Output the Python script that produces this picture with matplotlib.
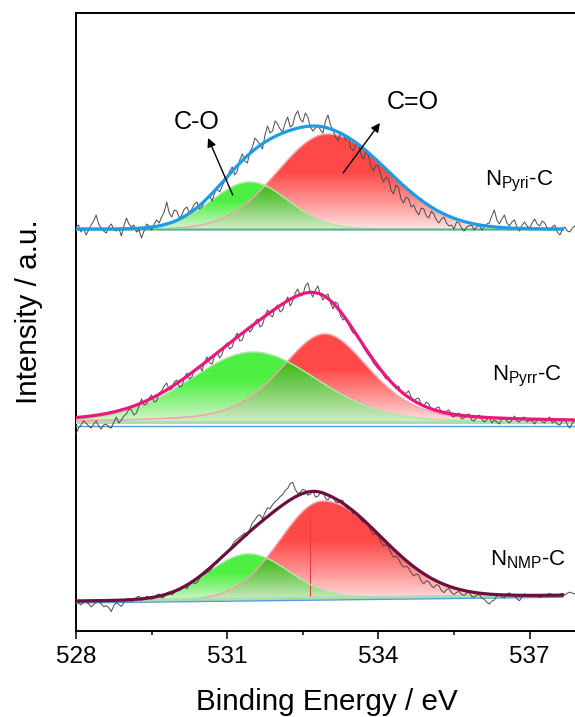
import numpy as np
import matplotlib
matplotlib.use('Agg')
import matplotlib.pyplot as plt
from matplotlib.ticker import FixedLocator

plt.rcParams['font.family'] = ['Liberation Sans', 'DejaVu Sans']
plt.rcParams['mathtext.fontset'] = 'custom'
plt.rcParams['mathtext.rm'] = 'Liberation Sans'
plt.rcParams['mathtext.it'] = 'Liberation Sans:italic'
plt.rcParams['mathtext.default'] = 'regular'

# ---- measured O 1s spectra (counts above baseline, arbitrary units) ----
# sampled every 0.05 eV from 528.0 to 537.9 eV
energy_first, energy_last = 528.0, 537.9

raw_pyri = [2, 4, -3, 1, -6, -1, 4, 8, 14, 5, 1, -2, -4, 2, 5, 0, -2, 1, -7, 3,
            11, 5, 2, 4, -3, -1, -9, -2, 5, 3, -1, 5, 9, 6, 12, 17, 27, 16, 12, 19,
            18, 11, 14, 20, 22, 16, 20, 25, 27, 20, 22, 28, 31, 33, 28, 36, 40, 37, 43, 48,
            50, 58, 62, 54, 58, 69, 75, 68, 66, 77, 82, 91, 88, 84, 80, 94, 103, 96, 98, 108,
            105, 100, 97, 106, 112, 102, 104, 114, 118, 110, 107, 116, 112, 102, 98, 101, 104, 99, 96, 108,
            114, 104, 99, 92, 88, 97, 95, 89, 92, 81, 78, 84, 86, 75, 70, 77, 74, 63, 58, 64,
            63, 53, 47, 52, 50, 39, 35, 44, 41, 30, 26, 32, 30, 22, 24, 18, 14, 21, 20, 13,
            11, 18, 15, 9, 6, 10, 12, 6, 3, 4, 0, 7, 6, 1, -2, 2, 3, 4, -1, 2,
            4, -1, 2, 5, 6, 13, 19, 9, 5, 10, 14, 6, 3, 7, 9, 2, -2, 4, 7, 3,
            1, 6, 10, 5, 3, 8, 6, 1, -1, 2, 4, -3, -6, -1, 2, -2, -3, 1, 3]

raw_pyrr = [-8, -2, 1, 5, 3, 0, -2, 2, 5, 0, -3, 1, 2, -1, -2, 4, 9, 3, 6, 10,
            12, 17, 16, 11, 13, 20, 27, 21, 22, 28, 31, 24, 25, 33, 35, 40, 43, 36, 37, 44,
            46, 39, 40, 48, 53, 47, 49, 56, 58, 60, 55, 64, 69, 63, 62, 70, 74, 68, 72, 80,
            83, 77, 79, 88, 93, 85, 86, 95, 98, 94, 97, 104, 107, 99, 101, 110, 116, 111, 109, 118,
            121, 114, 116, 124, 129, 120, 125, 133, 137, 130, 131, 140, 143, 134, 129, 136, 140, 131, 126, 130,
            132, 123, 117, 124, 122, 110, 106, 108, 103, 97, 93, 92, 87, 84, 79, 75, 71, 68, 63, 60,
            57, 55, 51, 47, 49, 45, 41, 38, 40, 34, 31, 33, 35, 29, 25, 27, 28, 22, 20, 24,
            22, 17, 15, 18, 19, 14, 12, 15, 16, 10, 9, 12, 13, 7, 8, 11, 12, 6, 5, 9,
            11, 7, 4, 6, 9, 3, 6, 4, 2, 7, 8, 5, 3, 6, 10, 5, 4, 8, 9, 4,
            6, 5, 2, 6, 8, 4, 3, 7, 9, 3, 5, 2, 1, 5, 7, 1, -2, 3, 6]

raw_nmp = [3, 0, -2, 1, 2, -1, -4, -2, 1, 2, -1, -4, -3, -5, -9, -3, 0, -2, -4, 0,
           3, 4, 1, 2, 5, 6, 2, 3, 6, 5, 3, 4, 7, 8, 4, 5, 9, 10, 7, 9,
           12, 11, 15, 16, 13, 17, 21, 18, 19, 23, 26, 27, 29, 30, 33, 37, 38, 41, 46, 47,
           49, 52, 56, 60, 62, 64, 66, 68, 65, 72, 78, 81, 85, 86, 82, 88, 93, 92, 96, 99,
           101, 104, 106, 110, 112, 117, 118, 111, 107, 108, 111, 110, 105, 106, 110, 103, 104, 107, 108, 102,
           100, 104, 103, 98, 97, 100, 99, 93, 91, 90, 86, 87, 84, 80, 77, 78, 74, 69, 65, 66,
           63, 57, 53, 55, 52, 46, 42, 43, 40, 35, 32, 33, 31, 26, 23, 25, 24, 18, 15, 18,
           17, 13, 11, 14, 13, 8, 6, 9, 10, 6, 4, 6, 7, 4, 3, 5, 6, 2, 1, 3,
           4, 0, -1, -4, -6, -3, -2, 2, 3, 1, 0, 4, 5, 3, 2, -1, -3, 1, 4, 2,
           1, 2, 3, 1, 0, 1, 2, 3, 4, 2, 1, 2, 3, 4, 2, 4, 5, 4, 3]

sample_labels = [r'N$_{Pyri}$-C', r'N$_{Pyrr}$-C', r'N$_{NMP}$-C']

# ---- peak fit parameters: centre (eV), height, low-/high-energy HWHM (eV),
# ---- Lorentzian fraction ----
co_center = [531.45, 531.52, 531.42]
co_height = [47, 70, 45]
co_hwhm_low = [0.895, 1.5, 0.94]
co_hwhm_high = [0.895, 1.5, 0.94]
co_lor = [0.0, 0.15, 0.0]

cdo_center = [533.0, 532.94, 532.9]
cdo_height = [95, 88, 97]
cdo_hwhm_low = [1.177, 1.05, 1.0]
cdo_hwhm_high = [1.41, 1.05, 1.39]
cdo_lor = [0.0, 0.4, 0.0]

fit_background = [0, 4, 2]
fit_end = [537.65, 538.0, 537.65]

# ---- layout of the stacked spectra ----
stack_left = [402, 205, 28]
stack_right = [402, 205, 34]
envelope_colors = ['#1c9be6', '#e8187c', '#6b0f3e']

RED_TOP, RED_BOTTOM = (1.0, 0.29, 0.29), (1.0, 0.90, 0.90)
GREEN_TOP, GREEN_BOTTOM = (0.30, 0.94, 0.26), (0.86, 0.96, 0.83)
MIX_TOP, MIX_BOTTOM = (0.28, 0.74, 0.14), (0.84, 0.93, 0.80)


def peak(x, c, h, w_low, w_high, eta):
    w = np.where(x < c, w_low, w_high)
    u2 = ((x - c) / w) ** 2
    return h * ((1 - eta) * np.exp(-np.log(2) * u2) + eta / (1 + u2))


def gradient_fill(ax, x, lower, upper, c_top, c_bottom, zorder, top_frac=0.6):
    poly = ax.fill_between(x, lower, upper, facecolor='none',
                           edgecolor='none', zorder=zorder)
    ymin, ymax = lower.min(), upper.max()
    t = np.linspace(0, 1, 256)
    f = np.clip(t / top_frac, 0, 1) ** 0.9
    rgb = (np.array(c_bottom)[None, :] * (1 - f)[:, None]
           + np.array(c_top)[None, :] * f[:, None])
    im = ax.imshow(rgb[:, None, :], extent=[x.min(), x.max(), ymin, ymax],
                   origin='lower', aspect='auto', interpolation='bilinear',
                   zorder=zorder)
    im.set_clip_path(poly.get_paths()[0], ax.transData)


fig = plt.figure(figsize=(5.75, 7.17), dpi=100)
ax = fig.add_axes([76 / 575, 86 / 717, 504 / 575, 618 / 717])

raws = [raw_pyri, raw_pyrr, raw_nmp]
for i in range(3):
    raw = np.array(raws[i], dtype=float)
    e_raw = np.linspace(energy_first, energy_last, len(raw))
    slope = (stack_right[i] - stack_left[i]) / (538.0 - 528.0)

    def base(e):
        return stack_left[i] + slope * (e - 528.0)

    x = np.linspace(528.0, fit_end[i], 800)
    b0 = base(x)
    bg = b0 + fit_background[i]
    co = peak(x, co_center[i], co_height[i], co_hwhm_low[i], co_hwhm_high[i], co_lor[i])
    cdo = peak(x, cdo_center[i], cdo_height[i], cdo_hwhm_low[i], cdo_hwhm_high[i], cdo_lor[i])
    env = bg + co + cdo

    # component areas with vertical colour fade
    gradient_fill(ax, x, bg, bg + cdo, RED_TOP, RED_BOTTOM, zorder=2)
    gradient_fill(ax, x, bg, bg + co, GREEN_TOP, GREEN_BOTTOM, zorder=3)
    gradient_fill(ax, x, bg, bg + np.minimum(co, cdo), MIX_TOP, MIX_BOTTOM,
                  zorder=3.5, top_frac=0.9)
    ax.plot(x, bg + cdo, color='#f2a3ab', lw=1.1, zorder=4)
    ax.plot(x, bg + co, color='#aee6a4', lw=1.1, zorder=4)

    # baselines
    ax.plot(x, bg, color='#a9dfb0', lw=2.2, zorder=4)
    ax.plot(x, b0, color='#5b9bd5', lw=1.0, zorder=4)

    # measured data and fitted envelope
    ax.plot(e_raw, base(e_raw) + raw, color='#4a4a4a', lw=0.7, zorder=5)
    ax.plot(x, env, color=envelope_colors[i], lw=2.3, zorder=6)

    if i == 2:
        xm = 532.64
        ym = base(xm) + fit_background[i] + peak(
            xm, cdo_center[i], cdo_height[i], cdo_hwhm_low[i], cdo_hwhm_high[i], cdo_lor[i])
        ax.plot([xm, xm], [base(xm) + fit_background[i], ym - 8],
                color='#e83a3a', lw=0.7, zorder=3.6)

label_pos = [(536.12, 446), (536.25, 251), (536.21, 66)]
for lab, (lx, ly) in zip(sample_labels, label_pos):
    ax.text(lx, ly, lab, fontsize=16, ha='left', va='baseline', zorder=7)

# component annotations
ax.text(530.40, 509, 'C-O', fontsize=18, ha='center', va='center', zorder=7)
ax.text(534.69, 529, 'C=O', fontsize=18, ha='center', va='center', zorder=7)
arrow = dict(arrowstyle='-|>', lw=1.0, color='black', mutation_scale=13,
             shrinkA=0, shrinkB=0)
ax.annotate('', xy=(530.62, 493), xytext=(531.11, 436), arrowprops=arrow, zorder=7)
ax.annotate('', xy=(534.03, 508), xytext=(533.30, 458), arrowprops=arrow, zorder=7)

ax.set_xlim(528, 538)
ax.set_ylim(0, 618)
ax.xaxis.set_major_locator(FixedLocator([528, 531, 534, 537]))
ax.xaxis.set_minor_locator(FixedLocator([529.5, 532.5, 535.5]))
ax.tick_params(axis='x', which='major', direction='out', length=5.5, width=1.1,
               labelsize=17.5, pad=5)
ax.tick_params(axis='x', which='minor', direction='out', length=3.2, width=1.1)
ax.set_yticks([])
for s in ['left', 'bottom', 'top']:
    ax.spines[s].set_linewidth(1.4)
ax.spines['right'].set_visible(False)

fig.text(327 / 575, 1 - 710 / 717, 'Binding Energy / eV', fontsize=21.3,
         ha='center', va='baseline')
fig.text(29 / 575, 1 - 312 / 717, 'Intensity / a.u.', fontsize=21.3,
         ha='center', va='center', rotation=90)

fig.savefig('out.png', dpi=100)
